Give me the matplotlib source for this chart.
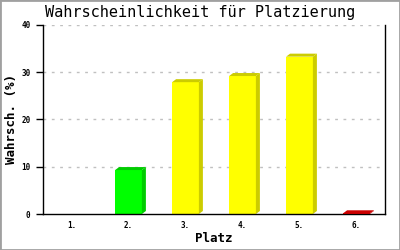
import matplotlib
matplotlib.use("Agg")
import matplotlib.pyplot as plt
from matplotlib.patches import Polygon, Rectangle

categories = ["1.", "2.", "3.", "4.", "5.", "6."]
values = [0.0, 9.3, 27.9, 29.2, 33.3, 0.15]
front_colors = ["#00ff00", "#00ff00", "#ffff00", "#ffff00", "#ffff00", "#ff0000"]
side_colors = ["#00cc00", "#00cc00", "#cccc00", "#cccc00", "#cccc00", "#cc0000"]
yticks = [0, 10, 20, 30, 40]

FONT = ["DejaVu Sans Mono"]

fig = plt.figure(figsize=(4, 2.5), dpi=100)
fig.patches.append(Rectangle((0, 0), 1, 1, transform=fig.transFigure,
                             fill=False, edgecolor="#a0a0a0", linewidth=2.0))
ax = fig.add_axes([43 / 400, 36 / 250, 342 / 400, 189 / 250])

n = len(categories)
xs = list(range(n))
w = 0.47
# 3D offsets: 4 px right, 3 px up
dx = 4 / 57.0
dy = 3 / (189 / 40)

for x, v, fc, sc in zip(xs, values, front_colors, side_colors):
    if v <= 0:
        continue
    ax.bar(x, v, width=w, color=fc, zorder=3, linewidth=0)
    r = x + w / 2
    l = x - w / 2
    side = Polygon([(r, 0), (r + dx, dy), (r + dx, v + dy), (r, v)],
                   closed=True, facecolor=sc, edgecolor="none", zorder=3)
    top = Polygon([(l, v), (l + dx, v + dy), (r + dx, v + dy), (r, v)],
                  closed=True, facecolor=sc, edgecolor="none", zorder=3)
    ax.add_patch(side)
    ax.add_patch(top)

ax.set_xlim(-0.5, n - 0.5)
ax.set_ylim(0, 40)
ax.set_yticks(yticks)
ax.set_yticklabels([str(t) for t in yticks], family=FONT, fontsize=5.5, fontweight="bold")
ax.set_xticks(xs)
ax.set_xticklabels(categories, family=FONT, fontsize=5.5, fontweight="bold")
ax.tick_params(axis="x", length=0, pad=5)
ax.tick_params(axis="y", length=5, width=1, pad=4, direction="out")

for t in yticks[1:]:
    ax.axhline(t, color="#c0c0c0", linewidth=1, linestyle=(0, (2, 4)), zorder=1)

for s in ["left", "right", "bottom"]:
    ax.spines[s].set_color("black")
    ax.spines[s].set_linewidth(1)
    ax.spines[s].set_zorder(4)
ax.spines["top"].set_visible(False)

ax.set_xlabel("Platz", family=FONT, fontsize=9, fontweight="bold", va="center")
ax.xaxis.set_label_coords(0.5, (214 - 238) / 189)
ax.set_ylabel("Wahrsch. (%)", family=FONT, fontsize=9, fontweight="bold", va="center")
ax.yaxis.set_label_coords((12 - 43) / 342, 0.5)
fig.text(0.5, 1 - 13 / 250, "Wahrscheinlichkeit für Platzierung", family=FONT,
         fontsize=11, ha="center", va="center")

fig.savefig("out.png", dpi=100)
